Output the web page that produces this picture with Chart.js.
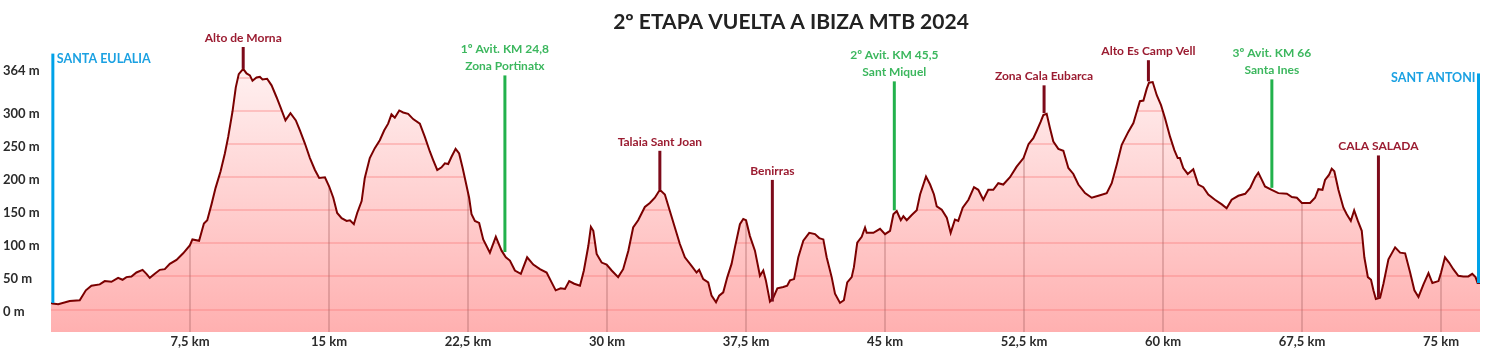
<!DOCTYPE html>
<html>
<head>
<meta charset="utf-8">
<script src="https://cdn.jsdelivr.net/npm/chart.js@4.4.1/dist/chart.umd.min.js"></script>
<style>
  html, body { margin: 0; padding: 0; background: #fff; }
  #wrap { width: 1492px; height: 351px; position: relative; }
</style>
</head>
<body>
<div id="wrap"><canvas id="perfil"></canvas></div>
<script>
// perfil de la etapa: distancia (km) y altitud (m)
const distKm = [
  0, 0.08, 0.39, 1.01, 1.55, 1.88, 2.18, 2.63, 2.9, 3.26, 3.62, 3.86, 4.07, 4.34, 4.61, 4.94, 5.15, 5.33, 5.6, 5.87,
  6.14, 6.41, 6.77, 7.13, 7.49, 7.63, 7.99, 8.25, 8.43, 8.66, 8.88, 9.15, 9.38, 9.56, 9.79, 9.97, 10.13, 10.37, 10.55, 10.73,
  10.87, 11.09, 11.27, 11.41, 11.66, 11.9, 12.17, 12.38, 12.65, 12.92, 13.21, 13.43, 13.7, 13.97, 14.24, 14.47, 14.78, 15.01, 15.23, 15.44,
  15.68, 15.95, 16.13, 16.34, 16.52, 16.76, 16.93, 17.2, 17.47, 17.74, 17.98, 18.19, 18.37, 18.55, 18.79, 19.0, 19.27, 19.54, 19.9, 20.17,
  20.44, 20.62, 20.84, 21.07, 21.25, 21.43, 21.61, 21.83, 22.02, 22.21, 22.39, 22.56, 22.69, 22.87, 23.1, 23.32, 23.68, 24.0, 24.31, 24.54,
  24.76, 25.03, 25.35, 25.69, 26.02, 26.38, 26.74, 27.01, 27.23, 27.5, 27.73, 27.96, 28.23, 28.54, 28.75, 28.99, 29.13, 29.26, 29.44, 29.71,
  29.98, 30.25, 30.6, 30.87, 31.15, 31.41, 31.68, 32.04, 32.31, 32.58, 32.85, 33.12, 33.39, 33.66, 33.93, 34.2, 34.56, 34.83, 34.97, 35.19,
  35.46, 35.64, 35.88, 36.05, 36.27, 36.49, 36.72, 36.9, 37.17, 37.35, 37.5, 37.71, 37.98, 38.25, 38.43, 38.57, 38.79, 38.97, 39.19, 39.51,
  39.72, 39.87, 40.09, 40.32, 40.59, 40.91, 41.22, 41.45, 41.67, 41.85, 42.12, 42.3, 42.57, 42.78, 42.96, 43.2, 43.32, 43.5, 43.74, 43.92,
  44.01, 44.37, 44.73, 45.0, 45.27, 45.45, 45.63, 45.85, 45.99, 46.17, 46.44, 46.71, 46.89, 47.21, 47.43, 47.64, 47.79, 48.06, 48.33, 48.54,
  48.77, 48.95, 49.19, 49.5, 49.8, 50.03, 50.3, 50.57, 50.84, 51.11, 51.38, 51.74, 52.1, 52.47, 52.74, 53.0, 53.18, 53.4, 53.54, 53.72,
  53.9, 54.08, 54.35, 54.62, 54.89, 55.16, 55.43, 55.79, 56.15, 56.51, 56.96, 57.23, 57.5, 57.77, 58.13, 58.4, 58.58, 58.75, 58.94, 59.12,
  59.24, 59.44, 59.66, 59.89, 60.11, 60.38, 60.61, 60.79, 60.91, 61.09, 61.33, 61.63, 61.9, 62.17, 62.44, 62.8, 63.17, 63.43, 63.7, 64.06,
  64.43, 64.7, 64.97, 65.14, 65.33, 65.5, 65.86, 66.22, 66.68, 66.95, 67.22, 67.49, 67.93, 68.2, 68.38, 68.6, 68.74, 68.96, 69.1, 69.24,
  69.46, 69.73, 69.91, 70.13, 70.31, 70.51, 70.72, 70.86, 71.05, 71.22, 71.35, 71.48, 71.71, 71.89, 72.16, 72.52, 72.79, 73.06, 73.33, 73.56,
  73.78, 74.05, 74.32, 74.53, 74.86, 75.0, 75.21, 75.43, 75.66, 75.93, 76.2, 76.47, 76.68, 76.86, 76.97, 77.1
];
const elevM = [
  10, 9, 8, 13, 14, 29, 36, 38, 43, 42, 48, 45, 49, 50, 56, 60, 54, 48, 54, 60,
  61, 69, 75, 85, 97, 106, 104, 130, 135, 159, 184, 209, 236, 261, 299, 336, 356, 364, 357, 354,
  346, 351, 352, 348, 349, 339, 321, 306, 286, 297, 286, 271, 251, 229, 211, 199, 200, 186, 169, 146,
  138, 134, 135, 129, 146, 164, 199, 229, 244, 256, 271, 281, 295, 290, 301, 298, 296, 288, 281, 261,
  239, 226, 211, 215, 221, 220, 231, 243, 236, 214, 191, 169, 144, 134, 131, 106, 86, 110, 89, 79,
  74, 59, 54, 79, 68, 61, 56, 41, 29, 32, 31, 43, 39, 36, 59, 96, 125, 119, 84, 71,
  68, 59, 49, 61, 89, 124, 135, 155, 161, 169, 181, 174, 149, 124, 99, 79, 66, 56, 60, 46,
  41, 21, 11, 21, 26, 49, 69, 94, 129, 137, 135, 111, 89, 51, 59, 44, 12, 18, 32, 34,
  36, 44, 46, 79, 104, 116, 114, 108, 106, 79, 49, 24, 10, 14, 41, 49, 64, 101, 110, 124,
  116, 116, 122, 114, 119, 144, 149, 135, 141, 135, 143, 150, 174, 201, 189, 174, 156, 151, 139, 116,
  136, 134, 154, 166, 185, 181, 166, 181, 181, 191, 189, 200, 216, 229, 250, 259, 270, 284, 294, 296,
  274, 254, 243, 240, 214, 205, 189, 176, 169, 172, 176, 191, 219, 249, 269, 282, 299, 315, 316, 334,
  343, 344, 324, 309, 289, 261, 241, 229, 229, 214, 205, 212, 189, 185, 174, 166, 159, 153, 166, 172,
  175, 184, 200, 207, 196, 186, 181, 176, 175, 170, 169, 161, 161, 169, 182, 181, 196, 204, 213, 209,
  181, 154, 144, 134, 150, 134, 119, 79, 49, 45, 29, 16, 18, 39, 76, 94, 86, 85, 56, 29,
  19, 38, 55, 40, 43, 56, 79, 71, 61, 51, 50, 50, 54, 49, 40, 40
];

// ejes
const xTickKm = [7.5, 15, 22.5, 30, 37.5, 45, 52.5, 60, 67.5, 75];
const yTickM = [0, 50, 100, 150, 200, 250, 300, 364];
const yGridM = [0, 50, 100, 150, 200, 250, 300, 350];

// puntos destacados
const markerText = [
  ['SANTA EULALIA'], ['Alto de Morna'], ['1º Avit. KM 24,8', 'Zona Portinatx'], ['Talaia Sant Joan'],
  ['Benirras'], ['2º Avit. KM 45,5', 'Sant Miquel'], ['Zona Cala Eubarca'], ['Alto Es Camp Vell'],
  ['3º Avit. KM 66', 'Santa Ines'], ['CALA SALADA'], ['SANT ANTONI']
];
const markerKm = [0.1, 10.37, 24.49, 32.85, 38.92, 45.5, 53.58, 59.21, 65.87, 71.62, 77.02];
const markerBaseM = [10, 364, 87, 181, 12, 150, 297, 345, 184, 18, 40];
const markerTopM = [387, 397, 354, 240, 196, 345, 339, 377, 348, 233, 357];
const markerKind = ['salida', 'alto', 'avit', 'alto', 'alto', 'avit', 'alto', 'alto', 'avit', 'alto', 'meta'];

const kindStyle = {
  salida: { line: '#00a2e8', text: '#1ba1e2', align: 'left', size: 12.5 },
  meta:   { line: '#00a2e8', text: '#1ba1e2', align: 'right', size: 12.5 },
  alto:   { line: '#7d0a1a', text: '#9b1c31', align: 'center', size: 12 },
  avit:   { line: '#22b14c', text: '#3cb75e', align: 'center', size: 12 }
};

const perfil = distKm.map((d, i) => ({ x: d, y: elevM[i] }));

const markerSets = markerKm.map((km, i) => ({
  label: markerText[i].join(' '),
  data: [{ x: km, y: markerBaseM[i] }, { x: km, y: markerTopM[i] }],
  borderColor: kindStyle[markerKind[i]].line,
  borderWidth: 3,
  borderCapStyle: 'butt',
  pointRadius: 0,
  fill: false,
  order: 0
}));

function fillGradient(ctx) {
  const area = ctx.chart.chartArea;
  if (!area) return '#ffd0d0';
  const g = ctx.chart.ctx.createLinearGradient(0, area.top, 0, area.bottom);
  g.addColorStop(0, '#fff6f6');
  g.addColorStop(1, '#ffb0b0');
  return g;
}

// rejilla solo dentro del area rellena
const gridInFill = {
  id: 'gridInFill',
  beforeDatasetDraw(chart, args) {
    if (args.index !== 0) return;
    const pts = chart.getDatasetMeta(1).data;
    const { ctx, chartArea, scales } = chart;
    ctx.save();
    ctx.beginPath();
    ctx.moveTo(pts[0].x, chartArea.bottom);
    pts.forEach(p => ctx.lineTo(p.x, p.y));
    ctx.lineTo(pts[pts.length - 1].x, chartArea.bottom);
    ctx.closePath();
    ctx.clip();
    ctx.lineWidth = 2;
    ctx.strokeStyle = 'rgba(250, 120, 120, 0.35)';
    yGridM.forEach(v => {
      const y = Math.round(scales.y.getPixelForValue(v));
      ctx.beginPath();
      ctx.moveTo(chartArea.left, y);
      ctx.lineTo(chartArea.right, y);
      ctx.stroke();
    });
    ctx.strokeStyle = 'rgba(170, 100, 100, 0.35)';
    xTickKm.forEach(v => {
      const x = Math.round(scales.x.getPixelForValue(v));
      ctx.beginPath();
      ctx.moveTo(x, chartArea.top);
      ctx.lineTo(x, chartArea.bottom);
      ctx.stroke();
    });
    ctx.restore();
  }
};

// titulo y rotulos de los puntos
const rotulos = {
  id: 'rotulos',
  afterDraw(chart) {
    const { ctx, scales } = chart;
    ctx.save();
    ctx.textBaseline = 'middle';
    ctx.fillStyle = '#222';
    ctx.font = 'bold 21px Lato';
    ctx.textAlign = 'center';
    ctx.fillText('2º ETAPA VUELTA A IBIZA MTB 2024', 791, 22);

    markerKm.forEach((km, i) => {
      const st = kindStyle[markerKind[i]];
      const x = scales.x.getPixelForValue(km);
      const top = scales.y.getPixelForValue(markerTopM[i]);
      const lines = markerText[i];
      ctx.font = 'bold ' + st.size + 'px Lato';
      ctx.fillStyle = st.text;
      ctx.textAlign = st.align;
      if (st.align === 'center') {
        lines.forEach((t, j) => {
          ctx.fillText(t, x, top - 9 - (lines.length - 1 - j) * 17);
        });
      } else {
        const tx = st.align === 'left' ? x + 4 : x - 3;
        ctx.fillText(lines[0], tx, top + 5);
      }
    });
    ctx.restore();
  }
};

Chart.defaults.font.family = 'Lato';

new Chart(document.getElementById('perfil'), {
  type: 'line',
  data: {
    datasets: [
      {
        label: 'Altitud',
        data: perfil,
        borderColor: '#7a0000',
        borderWidth: 2,
        pointRadius: 0,
        fill: false,
        order: 1
      },
      {
        label: 'Relleno',
        data: perfil,
        borderWidth: 0,
        pointRadius: 0,
        fill: 'start',
        backgroundColor: fillGradient,
        order: 2
      },
      ...markerSets
    ]
  },
  options: {
    responsive: true,
    maintainAspectRatio: false,
    animation: false,
    devicePixelRatio: 1,
    layout: { padding: { left: 3, right: 12, top: 45, bottom: 0 } },
    plugins: {
      legend: { display: false },
      tooltip: { enabled: false }
    },
    scales: {
      x: {
        type: 'linear',
        min: 0,
        max: 77.1,
        border: { display: false },
        grid: { display: false, drawTicks: false },
        afterBuildTicks: s => { s.ticks = xTickKm.map(v => ({ value: v })); },
        afterFit: s => { s.height = 19; },
        ticks: {
          autoSkip: false,
          maxRotation: 0,
          padding: 2,
          color: '#2b2b2b',
          font: { size: 13, weight: 'bold' },
          callback: v => String(v).replace('.', ',') + ' km'
        }
      },
      y: {
        min: -34,
        max: 400,
        border: { display: false },
        grid: { display: false, drawTicks: false },
        afterBuildTicks: s => { s.ticks = yTickM.map(v => ({ value: v })); },
        afterFit: s => { s.width = 48; },
        ticks: {
          crossAlign: 'far',
          padding: 0,
          labelOffset: 2.5,
          color: '#2b2b2b',
          font: { size: 13, weight: 'bold' },
          callback: v => v + ' m'
        }
      }
    }
  },
  plugins: [gridInFill, rotulos]
});
</script>
</body>
</html>
